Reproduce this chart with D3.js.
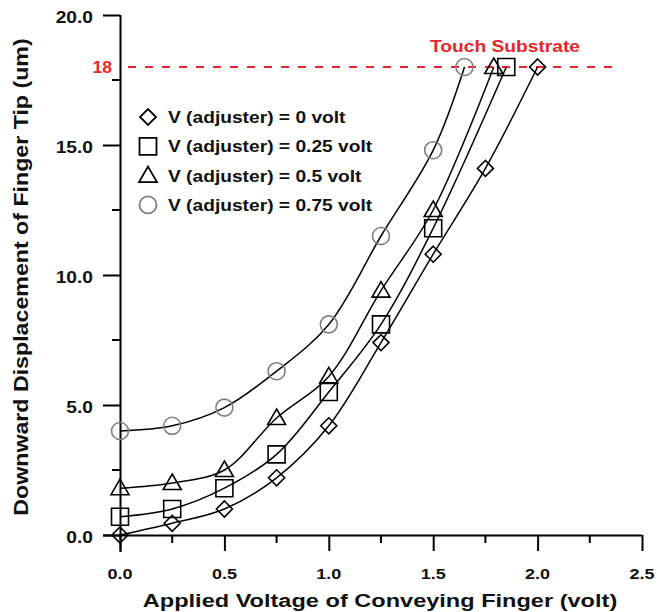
<!DOCTYPE html>
<html>
<head>
<meta charset="utf-8">
<script src="https://cdn.jsdelivr.net/npm/d3@7"></script>
<style>
  body { margin: 0; background: #fff; }
  svg text { font-family: "Liberation Sans", Arial, sans-serif; font-weight: bold; }
</style>
</head>
<body>
<div id="chart"></div>
<script>
// data
const xDiamond = [0, 0.25, 0.5, 0.75, 1.0, 1.25, 1.5, 1.75, 2.0]
const yDiamond = [0, 0.45, 1.0, 2.2, 4.2, 7.4, 10.8, 14.1, 18.0]
const xSquare = [0, 0.25, 0.5, 0.75, 1.0, 1.25, 1.5, 1.85]
const ySquare = [0.7, 1.0, 1.8, 3.1, 5.5, 8.1, 11.8, 18.0]
const xTriangle = [0, 0.25, 0.5, 0.75, 1.0, 1.25, 1.5, 1.79]
const yTriangle = [1.8, 2.0, 2.5, 4.5, 6.1, 9.4, 12.5, 18.0]
const xCircle = [0, 0.25, 0.5, 0.75, 1.0, 1.25, 1.5, 1.65]
const yCircle = [4.0, 4.2, 4.9, 6.3, 8.1, 11.5, 14.8, 18.0]
const legendLabels = ['V (adjuster) = 0 volt', 'V (adjuster) = 0.25 volt', 'V (adjuster) = 0.5 volt', 'V (adjuster) = 0.75 volt']
const xTicks = [0, 0.5, 1.0, 1.5, 2.0, 2.5]
const xMinor = [0.25, 0.75, 1.25, 1.75, 2.25]
const yTicks = [0, 5, 10, 15, 20]
const yMinor = [2.5, 7.5, 12.5, 17.5]
const substrate = 18

const series = [
  { xs: xDiamond, ys: yDiamond, sym: 'diamond', color: '#000' },
  { xs: xSquare, ys: ySquare, sym: 'square', color: '#000' },
  { xs: xTriangle, ys: yTriangle, sym: 'triangle', color: '#000' },
  { xs: xCircle, ys: yCircle, sym: 'circle', color: '#808080' },
]

const W = 657, H = 612
const SX = 1.2 // the original lettering is drawn wide
const svg = d3.select('#chart').append('svg').attr('width', W).attr('height', H)

const x = d3.scaleLinear().domain([0, 2.5]).range([120, 642])
const y = d3.scaleLinear().domain([0, 20]).range([535, 15])

// wide text helper
function wideText(g, tx, ty, str, size, anchor, rot, sx) {
  return g.append('text')
    .attr('transform', `translate(${tx},${ty})${rot ? ` rotate(${rot})` : ''} scale(${sx || SX},1)`)
    .attr('text-anchor', anchor || 'start')
    .attr('font-size', size)
    .attr('fill', '#111')
    .text(str)
}

// symbol path around (0,0)
function symbolPath(sym) {
  if (sym === 'diamond') return 'M0,-8L8,0L0,8L-8,0Z'
  if (sym === 'square') return 'M-8.5,-8.5H8.5V8.5H-8.5Z'
  if (sym === 'triangle') return 'M0,-9L9,6.5H-9Z'
  return d3.arc()({ innerRadius: 0, outerRadius: 8.5, startAngle: 0, endAngle: 2 * Math.PI })
}

// AXES
const xAxis = d3.axisBottom(x).tickValues(xTicks).tickFormat('').tickSize(16).tickSizeOuter(0)
const gx = svg.append('g').attr('transform', `translate(0,${y(0)})`).call(xAxis)
gx.select('.domain').attr('d', `M103,0.5H${x(2.5)}`).attr('stroke', '#000').attr('stroke-width', 2)
gx.selectAll('.tick line').attr('stroke-width', 2)
gx.selectAll('.minor').data(xMinor).join('line')
  .attr('x1', d => x(d)).attr('x2', d => x(d)).attr('y1', 0).attr('y2', 8)
  .attr('stroke', '#000').attr('stroke-width', 2)
xTicks.forEach(d => wideText(svg, x(d), 579, d3.format('.1f')(d), 15, 'middle'))

const yAxis = d3.axisLeft(y).tickValues(yTicks).tickFormat('').tickSize(17).tickSizeOuter(0)
const gy = svg.append('g').attr('transform', `translate(${x(0)},0)`).call(yAxis)
gy.select('.domain').attr('d', `M0.5,${y(20)}V${y(0) + 17}`).attr('stroke', '#000').attr('stroke-width', 2)
gy.selectAll('.tick line').attr('stroke-width', 2)
gy.selectAll('.minor').data(yMinor).join('line')
  .attr('x1', -8).attr('x2', 0).attr('y1', d => y(d)).attr('y2', d => y(d))
  .attr('stroke', '#000').attr('stroke-width', 2)
yTicks.forEach(d => wideText(svg, 93, y(d) + 8, d3.format('.1f')(d), 16, 'end'))

// axis titles
wideText(svg, 380, 607, 'Applied Voltage of Conveying Finger (volt)', 19, 'middle', 0, 1.24)
wideText(svg, 28, 277, 'Downward Displacement of Finger Tip (um)', 20, 'middle', -90, 1.16)

// SUBSTRATE LINE
svg.append('line').attr('x1', x(0) + 8).attr('x2', 617).attr('y1', y(substrate)).attr('y2', y(substrate))
  .attr('stroke', '#e8262a').attr('stroke-width', 2).attr('stroke-dasharray', '8,9')
wideText(svg, 112, y(substrate) + 6, substrate, 16, 'end', 0, 1.1).attr('fill', '#e8262a')
wideText(svg, 505, 52, 'Touch Substrate', 16, 'middle').attr('fill', '#e8262a')

// CURVES + MARKERS
const line = d3.line().x(d => x(d[0])).y(d => y(d[1])).curve(d3.curveCatmullRom.alpha(0.5))
series.forEach(s => {
  const pts = s.xs.map((v, i) => [v, s.ys[i]])
  svg.append('path').attr('d', line(pts)).attr('fill', 'none').attr('stroke', '#000').attr('stroke-width', 1.5)
  svg.append('g').selectAll('path').data(pts).join('path')
    .attr('transform', d => `translate(${x(d[0])},${y(d[1])})`)
    .attr('d', symbolPath(s.sym))
    .attr('fill', 'none').attr('stroke', s.color).attr('stroke-width', 1.6)
})

// LEGEND
series.forEach((s, i) => {
  const g = svg.append('g').attr('transform', `translate(148,${117 + i * 29.3})`)
  g.append('path').attr('d', symbolPath(s.sym)).attr('fill', 'none')
    .attr('stroke', s.color).attr('stroke-width', 1.8)
  wideText(g, 20, 6, legendLabels[i], 16, 'start')
})
</script>
</body>
</html>
